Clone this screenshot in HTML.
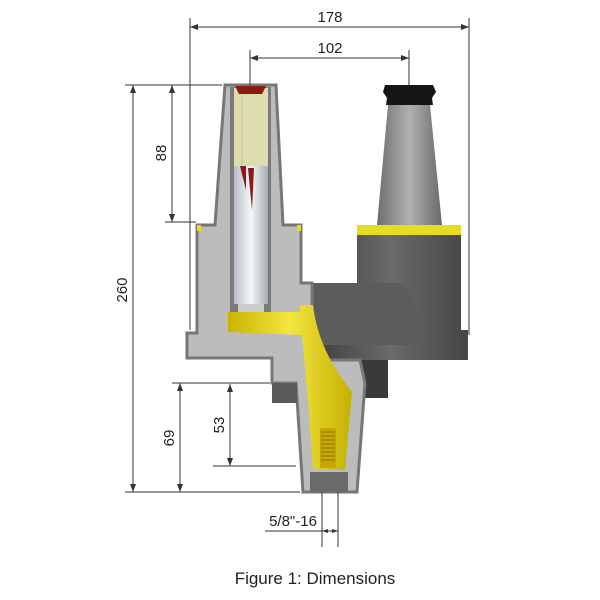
<!DOCTYPE html>
<html><head><style>
html,body{margin:0;padding:0;background:#fff;}
svg{display:block;}
text{font-family:"Liberation Sans",Arial,sans-serif;fill:#222;}
</style></head><body>
<svg width="600" height="600" viewBox="0 0 600 600" xmlns="http://www.w3.org/2000/svg">
<defs>
<linearGradient id="cone" x1="0" x2="1"><stop offset="0" stop-color="#6e6e6e"/><stop offset="0.5" stop-color="#b0b0b0"/><stop offset="1" stop-color="#6a6a6a"/></linearGradient>
<linearGradient id="dark" x1="0" x2="1"><stop offset="0" stop-color="#3e3e3e"/><stop offset="0.5" stop-color="#6a6a6a"/><stop offset="1" stop-color="#454545"/></linearGradient>
<linearGradient id="white" x1="0" x2="1"><stop offset="0" stop-color="#b8bcc4"/><stop offset="0.5" stop-color="#f4f6f8"/><stop offset="1" stop-color="#a8acb4"/></linearGradient>
<linearGradient id="yel" x1="0" x2="1"><stop offset="0" stop-color="#c8b400"/><stop offset="0.5" stop-color="#f4e640"/><stop offset="1" stop-color="#c4b000"/></linearGradient>
</defs>

<!-- right dark body -->
<path d="M312 283 L357 283 L357 235 L461 235 L461 330 L468 330 L468 360 L312 360 Z" fill="url(#dark)"/>
<path d="M312 283 L400 283 Q420 300 420 345 L312 345 Z" fill="#5c5c5c"/>
<rect x="357" y="225" width="104" height="10" fill="#e8dc20"/>
<path d="M388 105 L430 105 L442 225 L377 225 Z" fill="url(#cone)"/>
<path d="M385 85 L433 85 L436 92 L432 98 L433 105 L386 105 L387 98 L383 92 Z" fill="#151515"/>
<path d="M345 360 L388 360 L388 398 L365 398 Z" fill="#3a3a3a"/>

<!-- left light body -->
<path d="M225 85 L276 85 L283 225 L301 225 L301 283 L312 283 L312 360 L360 360 L365 383 L357 492 L303 492 L296 383 L272 383 L272 358 L187 358 L187 333 L197 333 L197 225 L215 225 Z" fill="#bcbcbc" stroke="#777" stroke-width="3"/>
<rect x="272" y="383" width="25" height="20" fill="#5a5a5a"/>
<rect x="197" y="225" width="4" height="6" fill="#e8dc20"/>
<rect x="297" y="225" width="4" height="6" fill="#e8dc20"/>

<!-- tower bore -->
<rect x="230" y="87" width="41" height="225" fill="#7a7a7a"/>
<rect x="234" y="88" width="34" height="78" fill="#dddbb0"/>
<line x1="242" y1="90" x2="242" y2="166" stroke="#c8c69a" stroke-width="1"/>
<path d="M235 86 L266 86 L262 94 L239 94 Z" fill="#8a1a14"/>
<rect x="234" y="166" width="34" height="138" fill="url(#white)"/>
<path d="M240 166 L246 166 L246 190 Z" fill="#8a1a14"/>
<path d="M248 168 L254 168 L252 210 Z" fill="#8a1a14"/>
<rect x="238" y="304" width="26" height="10" fill="#ccc"/>

<!-- yellow part -->
<path d="M228 312 L300 312 L300 305 L313 305 Q318 350 352 392 L345 470 L313 470 L308 400 L302 335 L228 332 Z" fill="url(#yel)"/>
<rect x="320" y="428" width="16" height="40" fill="#c8a800"/>
<g stroke="#8a7000" stroke-width="1">
<line x1="321" y1="432" x2="335" y2="432"/><line x1="321" y1="436" x2="335" y2="436"/><line x1="321" y1="440" x2="335" y2="440"/><line x1="321" y1="444" x2="335" y2="444"/><line x1="321" y1="448" x2="335" y2="448"/><line x1="321" y1="452" x2="335" y2="452"/><line x1="321" y1="456" x2="335" y2="456"/><line x1="321" y1="460" x2="335" y2="460"/>
</g>
<rect x="310" y="472" width="38" height="20" fill="#6a6a6a"/>

<!-- dimension lines -->
<g stroke="#333" stroke-width="1" fill="none">
<line x1="190" y1="18" x2="190" y2="330"/><line x1="469" y1="18" x2="469" y2="335"/>
<line x1="190" y1="27" x2="469" y2="27"/>
<line x1="250" y1="50" x2="250" y2="85"/><line x1="409" y1="50" x2="409" y2="85"/>
<line x1="250" y1="58" x2="409" y2="58"/>
<line x1="125" y1="85" x2="222" y2="85"/><line x1="125" y1="492" x2="300" y2="492"/>
<line x1="133" y1="85" x2="133" y2="492"/>
<line x1="165" y1="222" x2="196" y2="222"/><line x1="172" y1="85" x2="172" y2="222"/>
<line x1="172" y1="383" x2="270" y2="383"/><line x1="180" y1="383" x2="180" y2="492"/>
<line x1="213" y1="466" x2="296" y2="466"/><line x1="230" y1="384" x2="230" y2="466"/>
<line x1="322" y1="492" x2="322" y2="547"/><line x1="338" y1="492" x2="338" y2="547"/>
<line x1="265" y1="531" x2="338" y2="531"/>
</g>
<g fill="#333">
<path d="M190 27 l8 -3 v6 Z"/><path d="M469 27 l-8 -3 v6 Z"/>
<path d="M250 58 l8 -3 v6 Z"/><path d="M409 58 l-8 -3 v6 Z"/>
<path d="M133 85 l-3 8 h6 Z"/><path d="M133 492 l-3 -8 h6 Z"/>
<path d="M172 85 l-3 8 h6 Z"/><path d="M172 222 l-3 -8 h6 Z"/>
<path d="M180 383 l-3 8 h6 Z"/><path d="M180 492 l-3 -8 h6 Z"/>
<path d="M230 384 l-3 8 h6 Z"/><path d="M230 466 l-3 -8 h6 Z"/>
<path d="M322 531 l6 -2 v4 Z"/><path d="M338 531 l-6 -2 v4 Z"/>
</g>
<text x="330" y="22" font-size="15" text-anchor="middle">178</text>
<text x="330" y="53" font-size="15" text-anchor="middle">102</text>
<text x="0" y="0" font-size="15" text-anchor="middle" transform="translate(127,290) rotate(-90)">260</text>
<text x="0" y="0" font-size="15" text-anchor="middle" transform="translate(166,153) rotate(-90)">88</text>
<text x="0" y="0" font-size="15" text-anchor="middle" transform="translate(174,438) rotate(-90)">69</text>
<text x="0" y="0" font-size="15" text-anchor="middle" transform="translate(224,425) rotate(-90)">53</text>
<text x="293" y="526" font-size="15" text-anchor="middle">5/8"-16</text>
<text x="315" y="584" font-size="17" text-anchor="middle">Figure 1: Dimensions</text>
</svg>
</body></html>
